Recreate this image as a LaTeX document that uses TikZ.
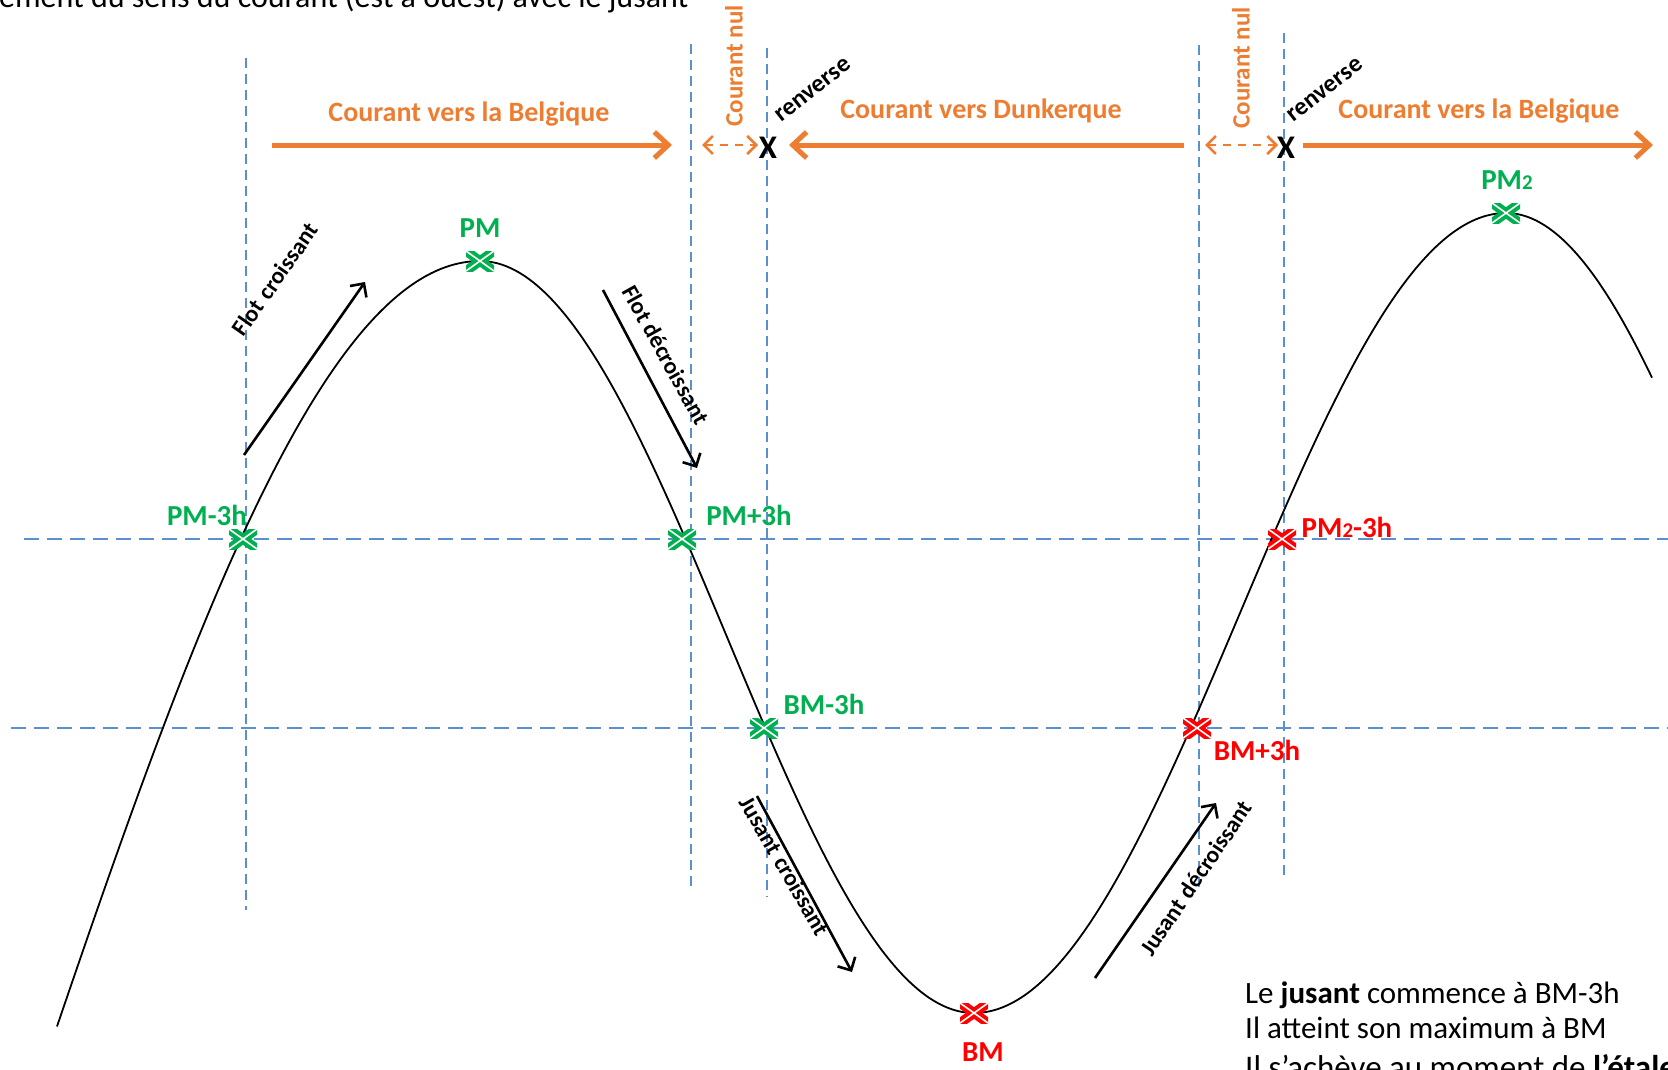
\documentclass[tikz,border=0pt]{standalone}
\usepackage{fontspec}
\setmainfont{Carlito}
\usetikzlibrary{arrows.meta}
\definecolor{guide}{HTML}{5B8FD0}
\definecolor{flow}{HTML}{ED7D31}
\definecolor{highw}{HTML}{00B050}
\definecolor{loww}{HTML}{FF0000}
\begin{document}
\begin{tikzpicture}[x=1pt,y=-1pt,
  vguide/.style={guide, line width=1.7pt, dash pattern=on 10pt off 6pt},
  hguide/.style={guide, line width=1.7pt, dash pattern=on 15pt off 8pt},
  flowlbl/.style={text=flow, font=\bfseries\fontsize{28}{32}\selectfont, inner sep=0pt},
  nullbl/.style={text=flow, font=\bfseries\fontsize{25}{29}\selectfont, inner sep=0pt, rotate=90},
  flowarrow/.style={flow, line width=5pt, -{Straight Barb[length=14pt,width=26pt]}},
  nilarrow/.style={flow, line width=2.5pt, dash pattern=on 8pt off 7pt,
    {Straight Barb[length=9pt,width=18pt]}-{Straight Barb[length=9pt,width=18pt]}},
  tidearrow/.style={black, line width=2.6pt, -{Straight Barb[length=10pt,width=20pt]}},
  tidelbl/.style={font=\bfseries\fontsize{29}{33}\selectfont, inner sep=0pt},
  phaselbl/.style={font=\bfseries\fontsize{23.5}{27}\selectfont, inner sep=0pt},
  turnlbl/.style={font=\bfseries\fontsize{25}{30}\selectfont, inner sep=0pt, rotate=38},
  turnmark/.style={font=\bfseries\fontsize{33}{36}\selectfont, inner sep=0pt},
  note/.style={font=\fontsize{31}{35}\selectfont, anchor=base west, inner sep=0pt},
  tidemark/.style={minimum width=28pt, minimum height=20pt, inner sep=0pt, outer sep=0pt,
    path picture={
      \draw[#1, line width=9.5pt]
        (path picture bounding box.south west) -- (path picture bounding box.north east)
        (path picture bounding box.north west) -- (path picture bounding box.south east);
      \draw[white, line width=1.6pt]
        (path picture bounding box.south west) -- (path picture bounding box.north east)
        (path picture bounding box.north west) -- (path picture bounding box.south east);
    }}
]
\useasboundingbox (0,0) rectangle (1668,1069);
\clip (0,0) rectangle (1668,1069);
\fill[white] (0,0) rectangle (1668,1069);

% guide lines (times and reference levels)
\coordinate (v1t) at (246,58);   \coordinate (v1b) at (246,910);
\coordinate (v2t) at (691,44);   \coordinate (v2b) at (691,892);
\coordinate (v3t) at (767,48);   \coordinate (v3b) at (767,897);
\coordinate (v4t) at (1199,45);  \coordinate (v4b) at (1199,893);
\coordinate (v5t) at (1284,33);  \coordinate (v5b) at (1284,881);
\coordinate (h1l) at (24,539);   \coordinate (h1r) at (1668,539);
\coordinate (h2l) at (11,728);   \coordinate (h2r) at (1668,728);
\foreach \a/\b in {v1t/v1b,v2t/v2b,v3t/v3b,v4t/v4b,v5t/v5b}
  \draw[vguide] (\a) -- (\b);
\draw[hguide] (h1l) -- (h1r);
\draw[hguide] (h2l) -- (h2r);

% tide curve
\draw[line width=1.8pt, line join=round]
  plot[domain=57:480, samples=140] (\x,{261+845*(1-cos((480-\x)/900*180))})
  -- plot[domain=480:974, samples=160] (\x,{637-376*cos((\x-480)/494*180)})
  -- plot[domain=974:1506, samples=160] (\x,{613+400*cos((\x-974)/532*180)})
  -- plot[domain=1506:1652, samples=50] (\x,{213+400*(1-cos((\x-1506)/487*180))});

% tide markers
\node[tidemark=highw] (pmA)  at (243,539) {};
\node[tidemark=highw] (pm)   at (480,261) {};
\node[tidemark=highw] (pmB)  at (682,539) {};
\node[tidemark=highw] (bmA)  at (764,728) {};
\node[tidemark=loww]  (bm)   at (974,1013) {};
\node[tidemark=loww]  (bmB)  at (1197,728) {};
\node[tidemark=loww]  (pm2A) at (1282,539) {};
\node[tidemark=highw] (pm2)  at (1506,213) {};

\node[tidelbl, text=highw] (lpmA)  at (207,515) {PM-3h};
\node[tidelbl, text=highw] (lpm)   at (480,228) {PM};
\node[tidelbl, text=highw] (lpmB)  at (749,515) {PM+3h};
\node[tidelbl, text=highw] (lbmA)  at (824,704) {BM-3h};
\node[tidelbl, text=loww]  (lbm)   at (983,1052) {BM};
\node[tidelbl, text=loww]  (lbmB)  at (1257,750) {BM+3h};
\node[tidelbl, text=loww]  (lpm2A) at (1347,527) {PM{\fontsize{21}{24}\selectfont 2}-3h};
\node[tidelbl, text=highw] (lpm2)  at (1507,180) {PM{\fontsize{21}{24}\selectfont 2}};

% flood / ebb phases
\coordinate (fc1) at (244,455);  \coordinate (fc2) at (365,282);
\coordinate (fd1) at (603,290);  \coordinate (fd2) at (697,468);
\coordinate (jc1) at (757,796);  \coordinate (jc2) at (852,972);
\coordinate (jd1) at (1095,978); \coordinate (jd2) at (1216,803);
\draw[tidearrow] (fc1) -- (fc2);
\draw[tidearrow] (fd1) -- (fd2);
\draw[tidearrow] (jc1) -- (jc2);
\draw[tidearrow] (jd1) -- (jd2);
\node[phaselbl, rotate=55]  (tfc) at (275,279) {Flot\hspace{0.3em}croissant};
\node[phaselbl, rotate=-61] (tfd) at (666,355) {Flot décroissant};
\node[phaselbl, rotate=-60] (tjc) at (785,866) {Jusant\hspace{0.3em}croissant};
\node[phaselbl, rotate=56]  (tjd) at (1196,878) {Jusant\hspace{0.3em}décroissant};

% current direction band
\node[turnmark] (x1) at (768,148) {X};
\node[turnmark] (x2) at (1286,148) {X};
\node[turnlbl] (r1) at (813,90) {renverse};
\node[turnlbl] (r2) at (1325,90) {renverse};
\node[nullbl] (n1) at (734,66) {Courant nul};
\node[nullbl] (n2) at (1241,68) {Courant nul};

\coordinate (b1s) at (272,145);  \coordinate (b1e) at (672,145);
\coordinate (d1s) at (1184,145); \coordinate (d1e) at (789,145);
\coordinate (b2s) at (1303,145); \coordinate (b2e) at (1653,145);
\coordinate (z1s) at (702,145);  \coordinate (z1e) at (758,145);
\coordinate (z2s) at (1205,145); \coordinate (z2e) at (1278,145);
\draw[flowarrow] (b1s) -- (b1e);
\draw[flowarrow] (d1s) -- (d1e);
\draw[flowarrow] (b2s) -- (b2e);
\draw[nilarrow] (z1s) -- (z1e);
\draw[nilarrow] (z2s) -- (z2e);
\node[flowlbl] (cb1) at (469,114) {Courant vers la Belgique};
\node[flowlbl] (cd1) at (981,111) {Courant vers Dunkerque};
\node[flowlbl] (cb2) at (1479,111) {Courant vers la Belgique};

% notes
\node[note, font=\fontsize{32}{36}\selectfont] (top) at (-1,7) {ement du sens du courant (est à ouest) avec le jusant};
\node[note] (t1) at (1245,1003) {Le \textbf{jusant} commence à BM-3h};
\node[note] (t2) at (1245,1038) {Il atteint son maximum à BM};
\node[note, font=\fontsize{33}{36}\selectfont] (t3) at (1245,1078) {Il s’achève au moment de \textbf{l’étale}};
\end{tikzpicture}
\end{document}
